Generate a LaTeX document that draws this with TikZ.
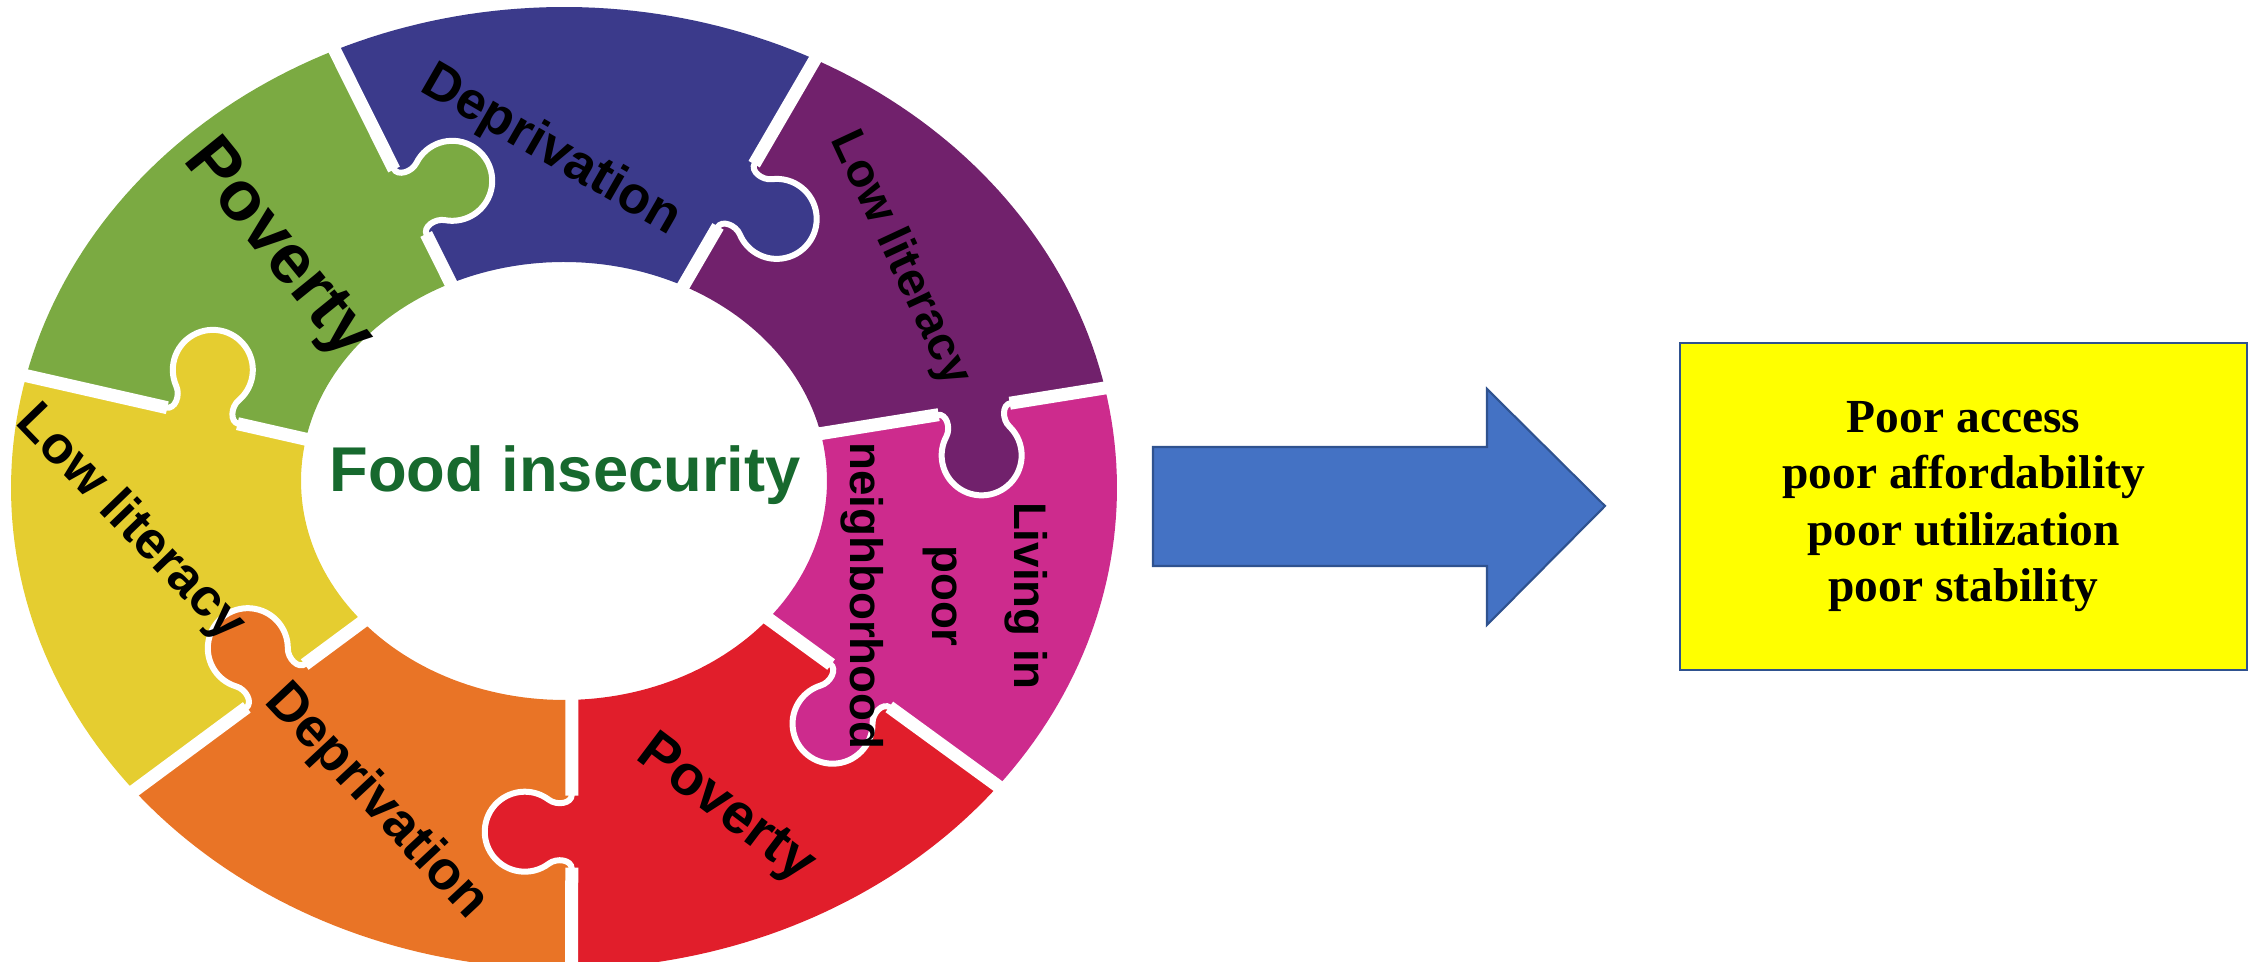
\documentclass[tikz,border=0pt]{standalone}
\usepackage{fontspec}
\setmainfont{Liberation Serif}
\newfontfamily\wheelfont{Liberation Sans}
\usetikzlibrary{calc}

\definecolor{pcGreen}{HTML}{7BAA42}
\definecolor{pcBlue}{HTML}{3B3A8B}
\definecolor{pcPurple}{HTML}{71216C}
\definecolor{pcMagenta}{HTML}{CD2B8D}
\definecolor{pcRed}{HTML}{E11E2B}
\definecolor{pcOrange}{HTML}{E97426}
\definecolor{pcYellow}{HTML}{E5CD30}
\definecolor{hubGreen}{HTML}{17692E}
\definecolor{arrowFill}{HTML}{4472C4}
\definecolor{arrowEdge}{HTML}{2F528F}
\definecolor{boxFill}{HTML}{FFFF00}

\begin{document}
\begin{tikzpicture}[x=1cm,y=1cm,
  seam/.style={white, line width=0.13cm},
  tabline/.style={white, line width=0.06cm},
  piecelabel/.style={font=\wheelfont\bfseries, text=black, inner sep=0pt, align=center},
]
\useasboundingbox (0,0) rectangle (22.59,9.62);

% outer rim and inner hole of the ring (ellipses)
\def\ocx{5.64}\def\ocy{4.74}\def\wa{5.53}\def\wb{4.81}
\def\icx{5.64}\def\icy{4.81}\def\ha{2.63}\def\hb{2.19}

% ring sectors: colour / outer ccw / outer cw / inner ccw / inner cw
\foreach \col/\oA/\oB/\iA/\iB in {
  pcGreen/166.5/114.5/169/115.5,
  pcBlue/114.5/63/115.5/63,
  pcPurple/63/12/63/12.5,
  pcMagenta/12/-38.3/12.5/-39,
  pcRed/-38.3/-89.2/-39/-88.3,
  pcOrange/-89.2/-141/-88.3/-140,
  pcYellow/-141/-193.5/-140/-191}{
  \fill[\col] plot[domain=\oA:\oB, samples=40] ({\ocx+\wa*cos(\x)},{\ocy+\wb*sin(\x)})
     -- plot[domain=\iB:\iA, samples=30] ({\icx+\ha*cos(\x)},{\icy+\hb*sin(\x)}) -- cycle;
}

% seams with a puzzle tab pointing clockwise
\def\tabpath{(-0.37,0) .. controls (-0.28,0) and (-0.259,0.149) .. (-0.3195,0.2293)
      arc[start angle=217, end angle=-37, radius=0.40]
      .. controls (0.259,0.149) and (0.28,0) .. (0.37,0)}
\foreach \col/\sO/\sI/\fr in {
  pcGreen/114.5/115.5/0.65,
  pcBlue/63/63/0.6,
  pcPurple/12/12.5/0.46,
  pcMagenta/-38.3/-39/0.6,
  pcRed/-89.2/-88.3/0.51,
  pcOrange/-141/-140/0.62,
  pcYellow/166.5/169/0.63}{
  \pgfmathsetmacro\ox{\ocx+\wa*cos(\sO)}
  \pgfmathsetmacro\oy{\ocy+\wb*sin(\sO)}
  \pgfmathsetmacro\ix{\icx+\ha*cos(\sI)}
  \pgfmathsetmacro\iy{\icy+\hb*sin(\sI)}
  \pgfmathsetmacro\dx{\ix-\ox}
  \pgfmathsetmacro\dy{\iy-\oy}
  \pgfmathsetmacro\ang{atan2(\dy,\dx)}
  \pgfmathsetmacro\len{veclen(\dx,\dy)}
  \pgfmathsetmacro\mx{\ox+\fr*\dx}
  \pgfmathsetmacro\my{\oy+\fr*\dy}
  \pgfmathsetmacro\ta{-\fr*\len-0.2}
  \pgfmathsetmacro\tb{(1-\fr)*\len+0.2}
  \begin{scope}[shift={(\mx,\my)}, rotate=\ang]
    \fill[\col] \tabpath -- (0.37,-0.04) -- (-0.37,-0.04) -- cycle;
    \draw[tabline] (-0.39,0) -- \tabpath -- (0.39,0);
    \draw[seam] (\ta,0) -- (-0.36,0);
    \draw[seam] (0.36,0) -- (\tb,0);
  \end{scope}
}

% labels on the pieces
\node[piecelabel, font=\wheelfont\bfseries\fontsize{20}{24}\selectfont, rotate=-51] (lblPovA) at (2.77,7.12) {Poverty};
\node[piecelabel, font=\wheelfont\bfseries\fontsize{15}{18}\selectfont, rotate=-30] (lblDepA) at (5.51,8.11) {Deprivation};
\node[piecelabel, font=\wheelfont\bfseries\fontsize{13.5}{16}\selectfont, rotate=-65] (lblLitA) at (9.00,7.03) {Low literacy};
\node[piecelabel, font=\wheelfont\bfseries\fontsize{13}{23.3}\selectfont, rotate=-90] (lblNbh) at (9.44,3.66) {Living in\\poor\\neighborhood};
\node[piecelabel, font=\wheelfont\bfseries\fontsize{16}{19}\selectfont, rotate=-37] (lblPovB) at (7.25,1.52) {Poverty};
\node[piecelabel, font=\wheelfont\bfseries\fontsize{15.5}{18}\selectfont, rotate=-47] (lblDepB) at (3.76,1.60) {Deprivation};
\node[piecelabel, font=\wheelfont\bfseries\fontsize{15}{18}\selectfont, rotate=-46] (lblLitB) at (1.30,4.38) {Low literacy};

% hub
\node[font=\wheelfont\bfseries\fontsize{18}{21}\selectfont, text=hubGreen, inner sep=0pt] (hub) at (5.65,4.87) {Food insecurity};

% outcome box
\node[draw=arrowEdge, line width=0.8pt, fill=boxFill, minimum width=5.67cm, minimum height=3.27cm,
      align=center, inner sep=0pt, font=\bfseries\fontsize{13.5}{16}\selectfont] (effects) at (19.635,4.555)
      {Poor access\\poor affordability\\poor utilization\\poor stability};

% block arrow towards the box
\coordinate (tip) at (16.05,4.56);
\fill[arrowFill, draw=arrowEdge, line width=0.6pt]
  (11.53,5.15) -- (14.87,5.15) -- (14.87,5.73) -- (tip) -- (14.87,3.37) -- (14.87,3.96) -- (11.53,3.96) -- cycle;

\end{tikzpicture}
\end{document}
